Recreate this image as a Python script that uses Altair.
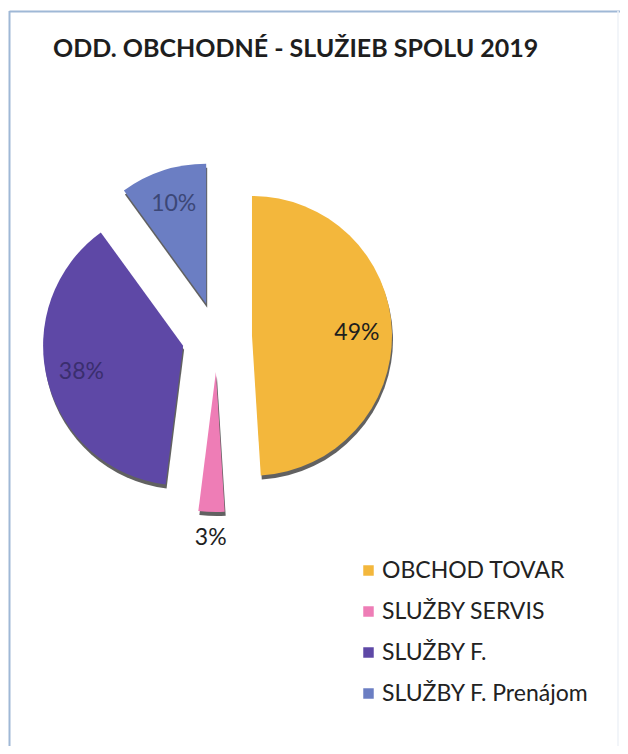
import altair as alt
import pandas as pd

# ---- data ----
categories = ["OBCHOD TOVAR", "SLUŽBY SERVIS", "SLUŽBY F.", "SLUŽBY F. Prenájom"]
values = [49, 3, 38, 10]
labels = ["49%", "3%", "38%", "10%"]
order = [0, 1, 2, 3]
title_text = "ODD. OBCHODNÉ - SLUŽIEB SPOLU 2019"

# ---- styles ----
slice_colors = ["#F3B73C", "#EE7DB6", "#5E48A6", "#6B7EC3"]
label_colors = ["#1E1E1E", "#1E1E1E", "#3A2E6E", "#3C4777"]
FONT = "Lato"
CX, CY = 209, 329
R = 140
EXPLODE = 35
R_IN_LABEL = 105
R_OUT_LABEL = 166

df = pd.DataFrame({"cat": categories, "value": values, "label": labels, "order": order})

base = (
    alt.Chart(df)
    .transform_window(cum="sum(value)", sort=[alt.SortField("order")], frame=[None, 0])
    .transform_joinaggregate(total="sum(value)")
    .transform_calculate(
        t0="2*PI*(datum.cum - datum.value)/datum.total",
        t1="2*PI*datum.cum/datum.total",
    )
    .transform_calculate(mid="(datum.t0 + datum.t1)/2")
    .transform_calculate(
        cx=f"{CX} + {EXPLODE}*sin(datum.mid)",
        cy=f"{CY} - {EXPLODE}*cos(datum.mid)",
        lr=f"datum.value < 5 ? {R_OUT_LABEL} : {R_IN_LABEL}",
    )
    .transform_calculate(
        lx="datum.cx + datum.lr*sin(datum.mid)",
        ly="datum.cy - datum.lr*cos(datum.mid)",
    )
)

pos = dict(
    theta=alt.Theta("t0:Q", scale=None, stack=None),
    theta2="t1:Q",
    x=alt.X("cx:Q", scale=None),
    y=alt.Y("cy:Q", scale=None),
)

shadow = base.mark_arc(radius=R, color="#3a3a3a", yOffset=4, xOffset=1, opacity=0.8).encode(**pos)

slices = base.mark_arc(radius=R).encode(
    **pos,
    color=alt.Color(
        "cat:N",
        sort=categories,
        scale=alt.Scale(domain=categories, range=slice_colors),
        legend=alt.Legend(
            title=None,
            orient="none",
            legendX=349,
            legendY=551,
            symbolType="square",
            symbolSize=110,
            symbolStrokeWidth=0,
            labelFontSize=23,
            labelFont=FONT,
            labelColor="#222222",
            labelOffset=2,
            rowPadding=17,
            labelLimit=400,
        ),
    ),
)

texts = base.mark_text(fontSize=23, font=FONT, baseline="middle", align="center").encode(
    x=alt.X("lx:Q", scale=None),
    y=alt.Y("ly:Q", scale=None),
    text="label:N",
    color=alt.Color("cat:N", scale=alt.Scale(domain=categories, range=label_colors), legend=None),
)

title_df = pd.DataFrame({"t": [title_text]})
title = alt.Chart(title_df).mark_text(
    align="left", baseline="alphabetic", fontSize=25, fontWeight="bold", font=FONT, color="#1E1E1E"
).encode(text="t:N", x=alt.value(45), y=alt.value(49))

one = pd.DataFrame({"k": [0]})
border_left = alt.Chart(one).mark_rule(color="#9FB8D6", strokeWidth=2).encode(
    x=alt.value(1.5), y=alt.value(3), y2=alt.value(760)
)
border_top = alt.Chart(one).mark_rule(color="#9FB8D6", strokeWidth=2).encode(
    x=alt.value(1.5), x2=alt.value(612), y=alt.value(3.5)
)
border_right = alt.Chart(one).mark_rule(color="#EEF2F7", strokeWidth=1.5).encode(
    x=alt.value(610), y=alt.value(3), y2=alt.value(760)
)

chart = (
    alt.layer(border_left, border_top, border_right, title, shadow, slices, texts)
    .resolve_scale(color="independent")
    .properties(width=612, height=738, padding=0, autosize=alt.AutoSizeParams(type="none"), background="white")
    .configure_view(stroke=None)
)

chart.save("out.html", embed_options={"renderer": "svg", "actions": False})
